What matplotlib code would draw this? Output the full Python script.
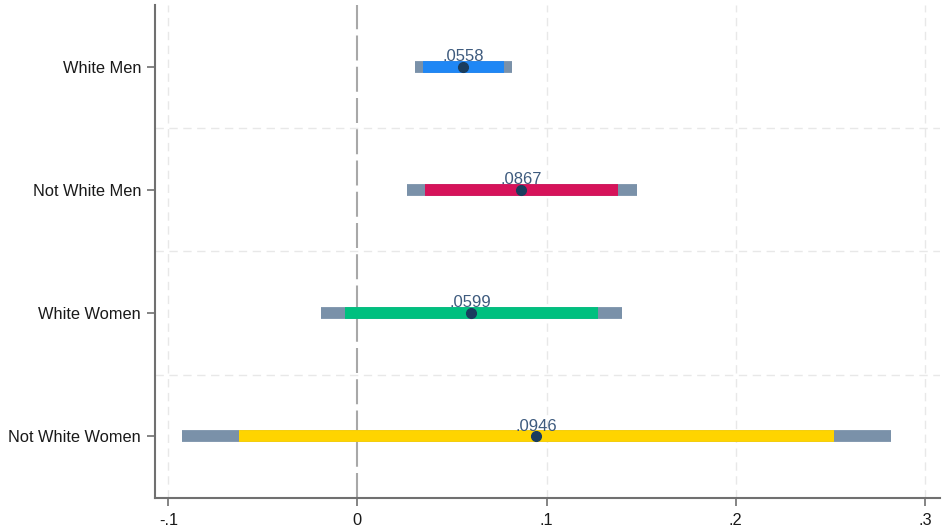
import matplotlib
matplotlib.use("Agg")
import matplotlib.pyplot as plt

plt.rcParams['font.family'] = ['Liberation Sans', 'DejaVu Sans']

# Estimates with 90% and 95% confidence intervals
groups = ["White Men", "Not White Men", "White Women", "Not White Women"]
estimates = [0.0558, 0.0867, 0.0599, 0.0946]
ci95_low = [0.0304, 0.0260, -0.0195, -0.0930]
ci95_high = [0.0817, 0.1480, 0.1400, 0.2820]
ci90_low = [0.0348, 0.0357, -0.0066, -0.0627]
ci90_high = [0.0775, 0.1380, 0.1270, 0.2520]
bar_colors = ["#1f87f5", "#d6135a", "#00c07f", "#ffd400"]
xtick_vals = [-0.1, 0, 0.1, 0.2, 0.3]
xtick_labels = ["-.1", "0", ".1", ".2", ".3"]

fig = plt.figure(figsize=(9.43, 5.31), dpi=100)
ax = fig.add_axes([0.1644, 0.0627, 0.8324, 0.9279])

ypos = list(range(1, len(groups) + 1))

# Grid: faint dashed lines, vertical at ticks, horizontal between groups
for xv in xtick_vals:
    if xv != 0:
        ax.axvline(xv, color="#e8e8e8", lw=1.0, ls=(0, (6, 4)), zorder=0)
for yv in [1.5, 2.5, 3.5]:
    ax.axhline(yv, color="#e8e8e8", lw=1.0, ls=(0, (6, 4)), zorder=0)
ax.axvline(0, color="#a8a8a8", lw=1.5, ls=(0, (12, 3)), zorder=1)

for y, est, l95, h95, l90, h90, c in zip(ypos, estimates, ci95_low, ci95_high,
                                          ci90_low, ci90_high, bar_colors):
    ax.plot([l95, h95], [y, y], color="#7a91a9", lw=8.5, solid_capstyle="butt", zorder=2)
    ax.plot([l90, h90], [y, y], color=c, lw=8.5, solid_capstyle="butt", zorder=3)
    ax.plot([est], [y], marker="o", ms=7, color="#1a3d5e", zorder=4)
    ax.text(est, y - 0.02, f"{est:.4f}".lstrip("0"), ha="center", va="bottom",
            fontsize=12, color="#3e5b7e", zorder=5)

ax.set_xlim(-0.107, 0.308)
ax.set_ylim(4.5, 0.5)
ax.set_yticks(ypos)
ax.set_yticklabels(groups)
ax.set_xticks(xtick_vals)
ax.set_xticklabels(xtick_labels)

for side in ["top", "right"]:
    ax.spines[side].set_visible(False)
for side in ["left", "bottom"]:
    ax.spines[side].set_color("#707070")
    ax.spines[side].set_linewidth(1.5)
ax.tick_params(axis="both", colors="#707070", length=6, width=1.2,
               labelcolor="#1a1a1a", labelsize=11.8)
ax.tick_params(axis="x", pad=5)
ax.tick_params(axis="y", pad=4)

fig.savefig("out.png", dpi=100, facecolor="white")
